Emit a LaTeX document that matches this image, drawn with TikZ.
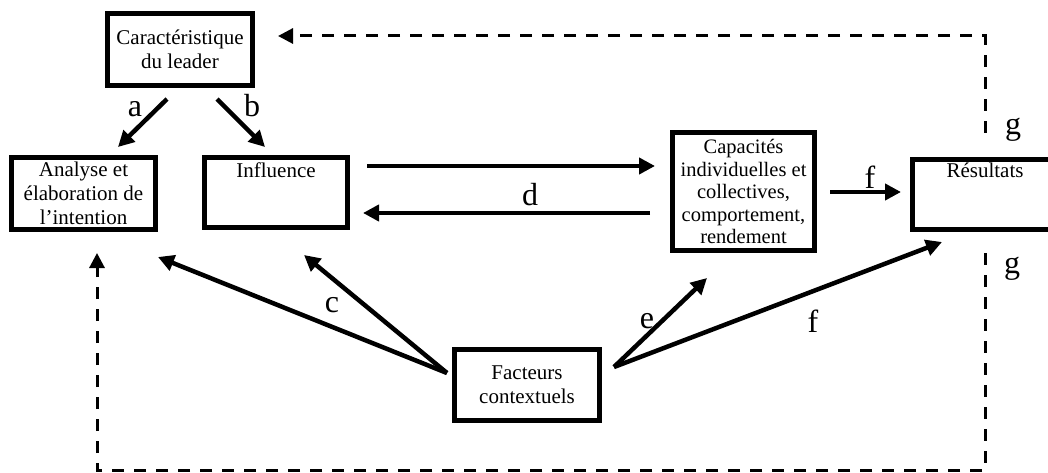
\documentclass[tikz,border=0pt]{standalone}
\usepackage{fontspec}
\setmainfont{Liberation Serif}
\usetikzlibrary{arrows.meta,calc}
\tikzset{
  cadre/.style={draw, line width=5pt, align=center, inner sep=1pt,
    font=\fontsize{21}{24}\selectfont},
  fleche/.style={line width=4.5pt, -{Triangle[length=16pt,width=16pt]}},
  retour/.style={line width=3pt, dash pattern=on 12pt off 10pt,
    -{Triangle[length=15pt,width=15pt]}},
  lettre/.style={anchor=base, inner sep=0pt, font=\fontsize{32}{36}\selectfont}
}
\begin{document}
\begin{tikzpicture}[x=1pt,y=-1pt]
        \useasboundingbox (0,0) rectangle (1048,473);
        % Draw boxes
        \node[cadre, minimum width=145pt, minimum height=72pt] (lead) at (180,49.5) {Caractéristique\\du leader};
        \node[cadre, minimum width=144pt, minimum height=72pt] (anal) at (83.5,193.5) {Analyse et\\élaboration de\\l’intention};
        \node[cadre, minimum width=143pt, inner ysep=0pt, text height=20.5pt, text depth=49.5pt] (infl) at (276,192.5) {Influence};
        \node[cadre, minimum width=142pt, minimum height=118pt, font=\fontsize{20.5}{22.5}\selectfont] (cap) at (743.5,191.5) {Capacités\\individuelles et\\collectives,\\comportement,\\rendement};
        \node[cadre, minimum width=145pt, inner ysep=0pt, text height=18.5pt, text depth=51.5pt] (res) at (985,194.5) {Résultats};
        \node[cadre, minimum width=145pt, minimum height=71pt] (fact) at (527,385) {Facteurs\\contextuels};
        % Draw arrows
        \draw[fleche] ($(lead.south)+(-13,11)$) -- ($(anal.north)+(34.5,-8)$);
        \draw[fleche] ($(lead.south)+(37,11)$) -- ($(infl.north)+(-11,-8)$);
        \draw[fleche] ($(infl.east)+(17,-26.5)$) -- ($(cap.west)+(-15,-25.5)$);
        \draw[fleche] ($(cap.west)+(-20,21.5)$) -- ($(infl.east)+(13,20.5)$);
        \draw[fleche] ($(cap.east)+(13,0.5)$) -- ($(res.west)+(-9,-2.5)$);
        \draw[fleche] ($(fact.west)+(-5,-12)$) -- ($(anal.south)+(74.5,25)$);
        \draw[fleche] ($(fact.west)+(-5,-12)$) -- ($(infl.south)+(28,25)$);
        \draw[fleche] ($(fact.east)+(12,-18)$) -- ($(cap.south)+(-36.5,25)$);
        \draw[fleche] ($(fact.east)+(12,-18)$) -- ($(res.south)+(-43,10)$);
        % Feedback loops
        \draw[retour] ($(res.north)+(0,-24)$) |- ($(lead.east)+(23,-13.5)$);
        \coordinate (bas) at ($(res.south)+(0,21)$);
        \draw[retour] (bas) -- ++(0,217) -| ($(anal.south)+(13.5,21)$);
        % Letters
        \node[lettre] (la) at (135,117) {a};
        \node[lettre] (lb) at (252,117) {b};
        \node[lettre] (lc) at (332,312) {c};
        \node[lettre] (ld) at (530,205) {d};
        \node[lettre] (le) at (647,328) {e};
        \node[lettre] (lf) at (870,188) {f};
        \node[lettre] (lf2) at (813,332) {f};
        \node[lettre] (lg) at (1013,135) {g};
        \node[lettre] (lg2) at (1012,273) {g};
      \end{tikzpicture}
\end{document}
